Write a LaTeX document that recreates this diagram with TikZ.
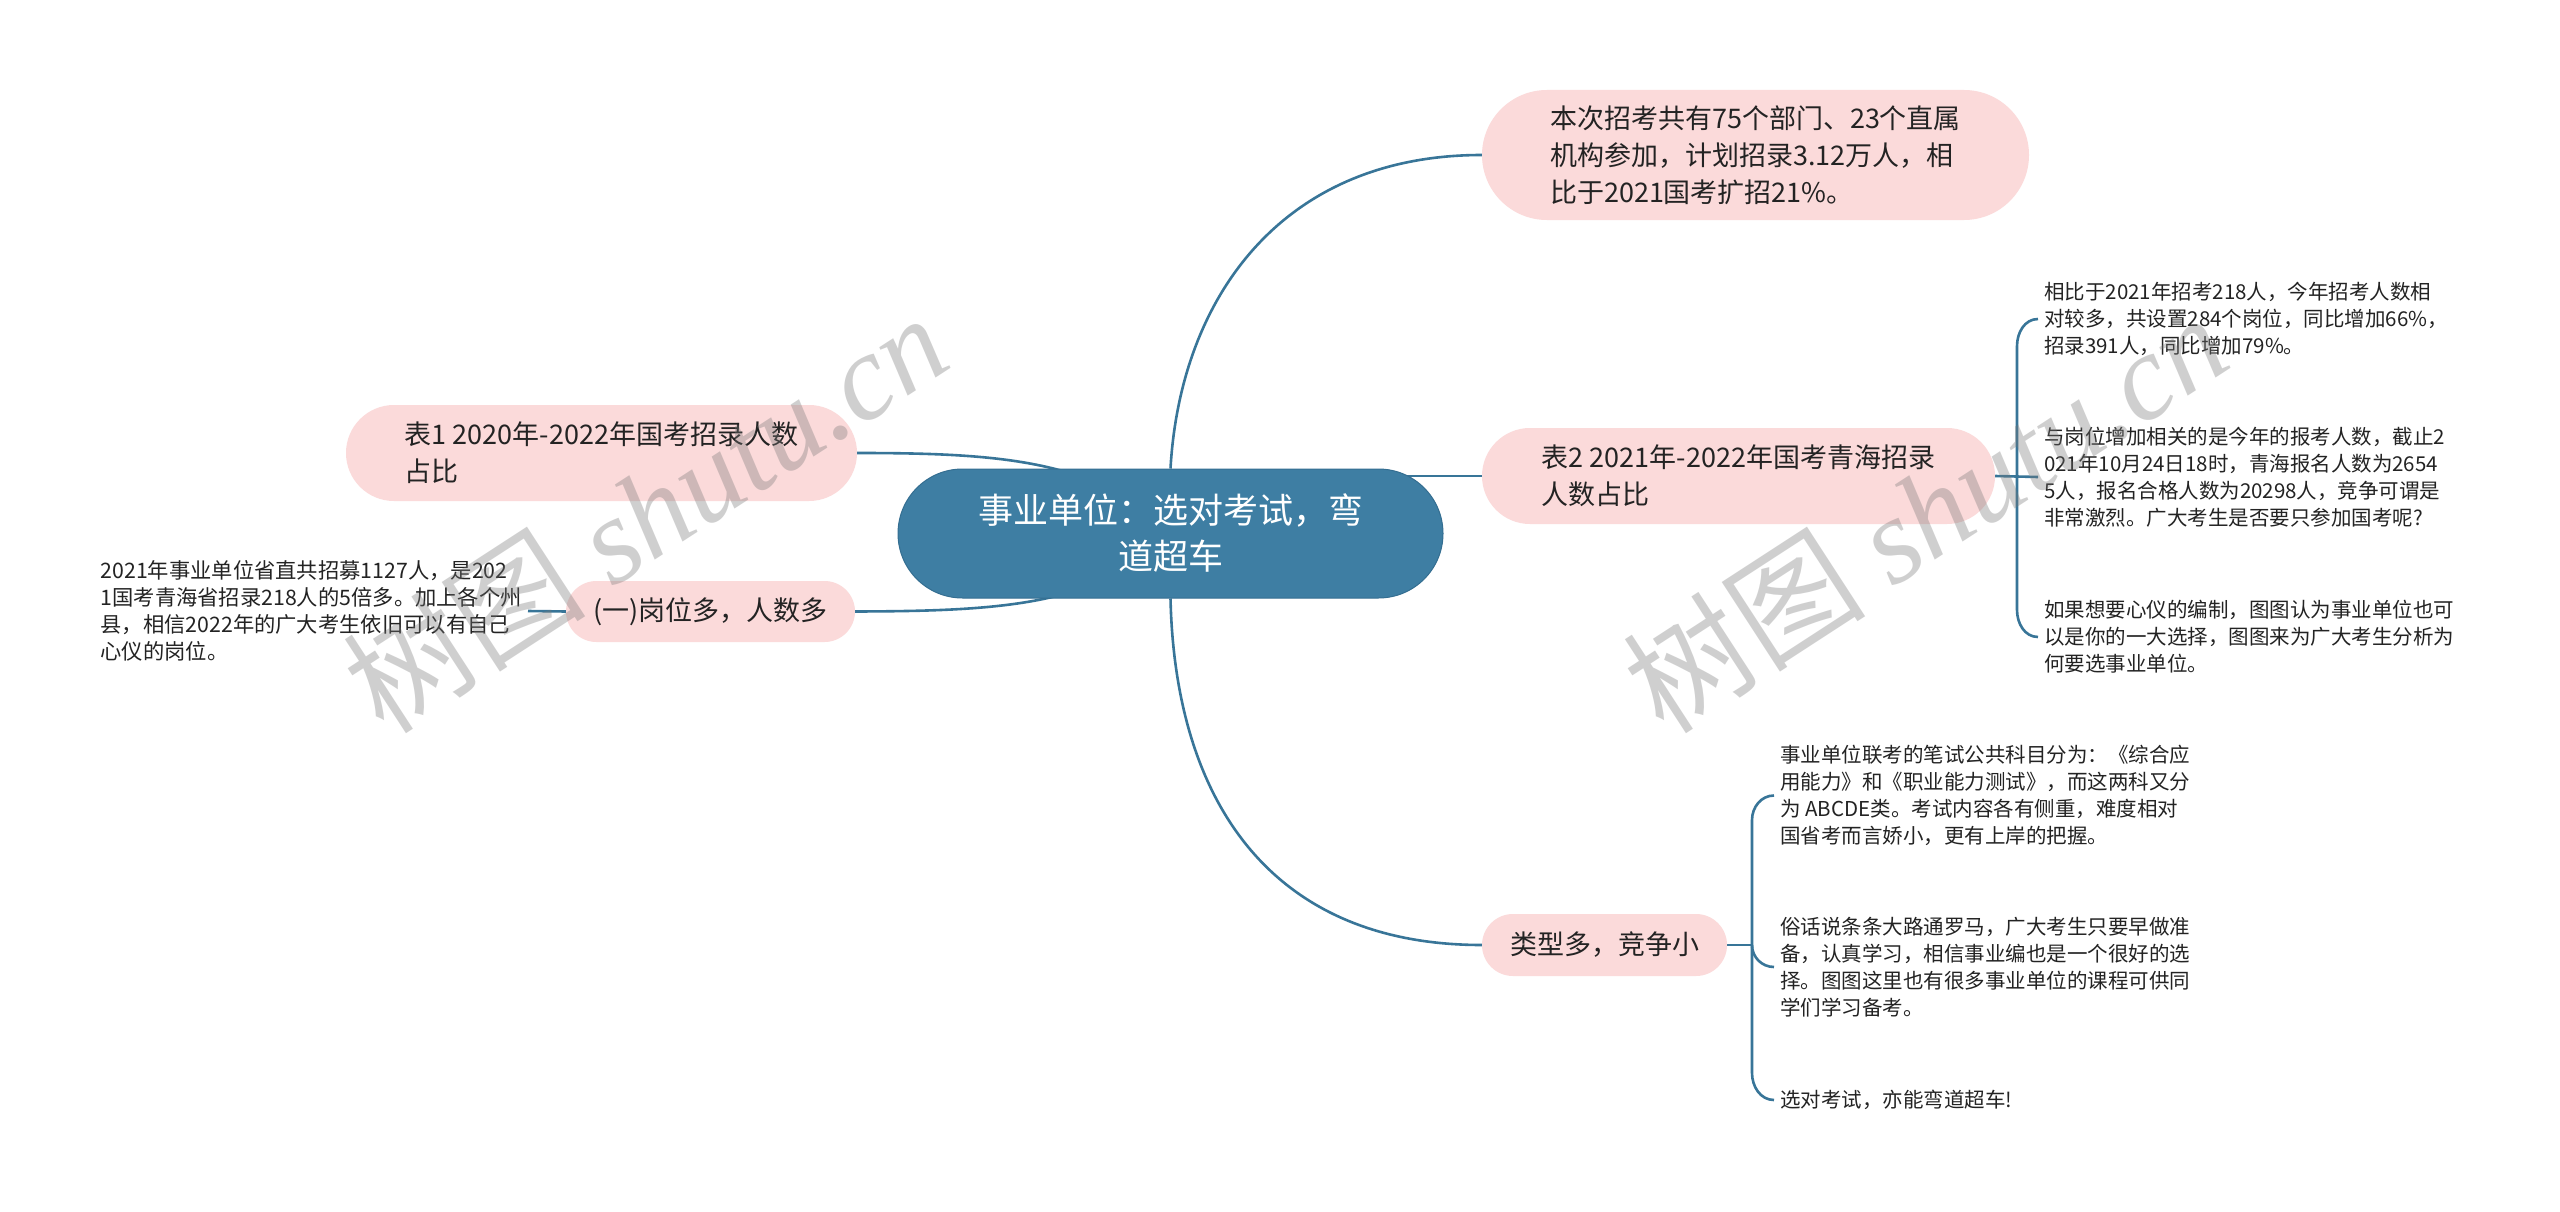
\documentclass[tikz,border=0pt]{standalone}
\usepackage{fontspec}
\setmainfont{Noto Sans CJK SC}
\newfontfamily\wmserif{Liberation Serif}
\usetikzlibrary{calc}
\definecolor{pinkfill}{RGB}{251,218,218}
\definecolor{centfill}{RGB}{62,126,163}
\definecolor{centdraw}{RGB}{52,110,145}
\definecolor{linecol}{RGB}{56,117,152}
\definecolor{txt}{RGB}{35,35,35}
\definecolor{wmgray}{RGB}{120,120,120}
\pgfdeclarelayer{bg}
\pgfsetlayers{bg,main}
\begin{document}
\begin{tikzpicture}[x=1pt,y=-1pt,
  pinkbox/.style={draw=none, fill=pinkfill, inner sep=0pt, align=left, text=txt, font=\fontsize{27}{37}\selectfont},
  cbox/.style={fill=centfill, draw=centdraw, line width=1pt, inner sep=0pt, align=center, text=white, font=\fontsize{35}{46}\selectfont},
  leaf/.style={inner xsep=6pt, inner ysep=0pt, align=left, text=txt, font=\fontsize{20.5}{27}\selectfont},
  conn/.style={draw=linecol, line width=2.6pt},
  wm/.style={text=wmgray, text opacity=0.35, rotate=33, font=\fontsize{122}{122}\selectfont}
]
\useasboundingbox (0,0) rectangle (2560,1212);

% main nodes
\node[cbox, minimum width=545, minimum height=129, rounded corners=64.5] (c) at (1170.5,533.5) {事业单位：选对考试，弯\\道超车};
\node[pinkbox, minimum width=547, minimum height=130, rounded corners=65] (n1) at (1755.5,155) {本次招考共有75个部门、23个直属\\机构参加，计划招录3.12万人，相\\比于2021国考扩招21\%。};
\node[pinkbox, minimum width=513, minimum height=96, rounded corners=48] (t2) at (1738.5,476) {表2 2021年-2022年国考青海招录\\人数占比};
\node[pinkbox, minimum width=245, minimum height=62, rounded corners=31] (lei) at (1604.5,945) {类型多，竞争小};
\node[pinkbox, minimum width=511, minimum height=96, rounded corners=48] (t1) at (601.5,453) {表1 2020年-2022年国考招录人数\\占比};
\node[pinkbox, minimum width=289, minimum height=61, rounded corners=30.5] (y1) at (710.5,611.5) {(一)岗位多，人数多};

% leaves
\node[leaf, anchor=east, font=\fontsize{21.3}{27}\selectfont] (l1) at (528,611) {2021年事业单位省直共招募1127人，是202\\1国考青海省招录218人的5倍多。加上各个州\\县，相信2022年的广大考生依旧可以有自己\\心仪的岗位。};
\node[leaf, anchor=west] (la) at (2038,319) {相比于2021年招考218人，今年招考人数相\\对较多，共设置284个岗位，同比增加66\%，\\招录391人，同比增加79\%。};
\node[leaf, anchor=west] (lb) at (2038,477) {与岗位增加相关的是今年的报考人数，截止2\\021年10月24日18时，青海报名人数为2654\\5人，报名合格人数为20298人，竞争可谓是\\非常激烈。广大考生是否要只参加国考呢?};
\node[leaf, anchor=west] (lc) at (2038,637) {如果想要心仪的编制，图图认为事业单位也可\\以是你的一大选择，图图来为广大考生分析为\\何要选事业单位。};
\node[leaf, anchor=west] (ld) at (1774,795.5) {事业单位联考的笔试公共科目分为：《综合应\\用能力》和《职业能力测试》，而这两科又分\\为 ABCDE类。考试内容各有侧重，难度相对\\国省考而言娇小，更有上岸的把握。};
\node[leaf, anchor=west] (le) at (1774,967) {俗话说条条大路通罗马，广大考生只要早做准\\备，认真学习，相信事业编也是一个很好的选\\择。图图这里也有很多事业单位的课程可供同\\学们学习备考。};
\node[leaf, anchor=west] (lf) at (1774,1100) {选对考试，亦能弯道超车!};

\coordinate (j2) at (2017,476);
\coordinate (j3) at (1752,945);

\begin{pgfonlayer}{bg}
\fill[white] (0,0) rectangle (2560,1212);
% connectors from the central topic
\draw[conn] (c.north) .. controls (1180,300) and (1280,155) .. (n1.west);
\draw[conn] (c.south) .. controls (1175,800) and (1270,945) .. (lei.west);
\draw[conn] (c.center |- t2.west) -- (t2.west);
\draw[conn] (t1.east) .. controls (1000,453) and (1100,460) .. (c.center);
\draw[conn] (y1.east) .. controls (1000,611) and (1100,606) .. (c.center);
\draw[conn] (y1.west) -- (l1.east);
% bracket of 表2
\draw[conn] (t2.east) -- (lb.west);
\draw[conn] (j2) -- ++(0,-130) to[out=90,in=180] (la.west);
\draw[conn] (j2) -- ++(0,134) to[out=-90,in=180] (lc.west);
% bracket of 类型多
\draw[conn] (lei.east) -- (j3);
\draw[conn] (j3) -- ++(0,-125) to[out=90,in=180] (ld.west);
\draw[conn] (j3) to[out=-90,in=180] (le.west);
\draw[conn] (j3) -- ++(0,128) to[out=-90,in=180] (lf.west);
\end{pgfonlayer}

% watermarks
\node[wm] (w1) at (645,512) {树图 {\wmserif\itshape shutu.cn}};
\node[wm] (w2) at (1925,512) {树图 {\wmserif\itshape shutu.cn}};
\end{tikzpicture}
\end{document}
